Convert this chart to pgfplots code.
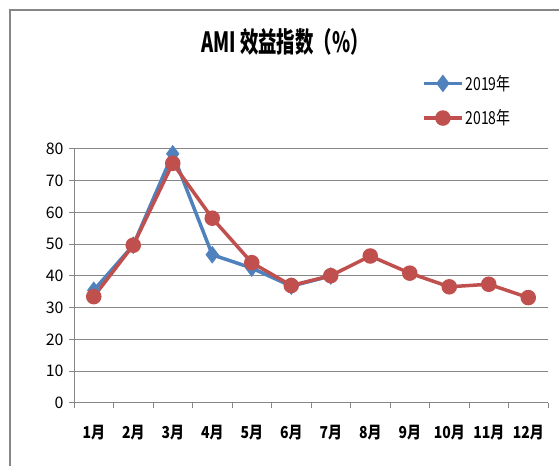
\documentclass[border=0pt]{standalone}
\usepackage{pgfplots}
\pgfplotsset{compat=1.18}
\usepackage{fontspec}
\setmainfont{Noto Sans CJK SC}
\newfontfamily\titlef[FakeStretch=0.66]{Noto Sans CJK SC}
\newfontfamily\condf[FakeStretch=0.85]{Noto Sans CJK SC}
\newfontfamily\legf[FakeStretch=0.78]{Noto Sans CJK SC}
\definecolor{c19}{HTML}{4F81BD}
\definecolor{c18}{HTML}{C0504D}
\definecolor{gridc}{HTML}{868686}
\begin{document}
\begin{tikzpicture}[x=1bp,y=1bp]
\useasboundingbox (0,0) rectangle (559,466);
\draw[gridc, line width=1.2bp] (10,-5) -- (10,456) -- (570,456);
\begin{axis}[
  at={(74bp,63bp)}, anchor=south west, scale only axis,
  width=474bp, height=254bp,
  xmin=0.5, xmax=12.5, ymin=0, ymax=80,
  ytick={0,10,...,80},
  xtick={0.5,1.5,...,12.5},
  x tick label as interval,
  xticklabels={1月,2月,3月,4月,5月,6月,7月,8月,9月,10月,11月,12月},
  axis x line*=bottom, axis y line*=left,
  axis line style={gridc, line width=1bp, -},
  tick style={gridc, line width=1bp},
  tick align=outside, major tick length=5bp,
  ymajorgrids, grid style={gridc, line width=1bp},
  /pgf/number format/assume math mode=true,
  xticklabel style={font=\condf\fontsize{16.5}{16.5}\selectfont\bfseries, yshift=-14bp},
  yticklabel style={font=\fontsize{16}{16}\selectfont, xshift=-2bp},
  legend style={draw=none, fill=none, at={(0.83,1.19)}, anchor=center,
    font=\legf\fontsize{18}{18}\selectfont, row sep=14bp},
  legend cell align=left,
  legend image code/.code={\draw[mark repeat=2,mark phase=2] plot coordinates {(0bp,0bp)(19bp,0bp)(38bp,0bp)};},
]
\addplot[c19, line width=3.5bp, mark=diamond*, mark size=6bp, mark options={solid}]
  coordinates {(1,35.5)(2,49.7)(3,78.5)(4,46.7)(5,42.5)(6,36.8)(7,40)};
\addlegendentry{2019年}
\addplot[c18, line width=3.5bp, mark=*, mark size=6bp, mark options={solid}]
  coordinates {(1,33.5)(2,49.7)(3,75.5)(4,58.2)(5,44.2)(6,37)(7,40.1)(8,46.3)(9,40.9)(10,36.6)(11,37.4)(12,33.2)};
\addlegendentry{2018年}
\end{axis}
\node[font=\titlef\fontsize{28}{28}\selectfont\bfseries] at (285,424) {AMI 效益指数（\%）};
\end{tikzpicture}
\end{document}
